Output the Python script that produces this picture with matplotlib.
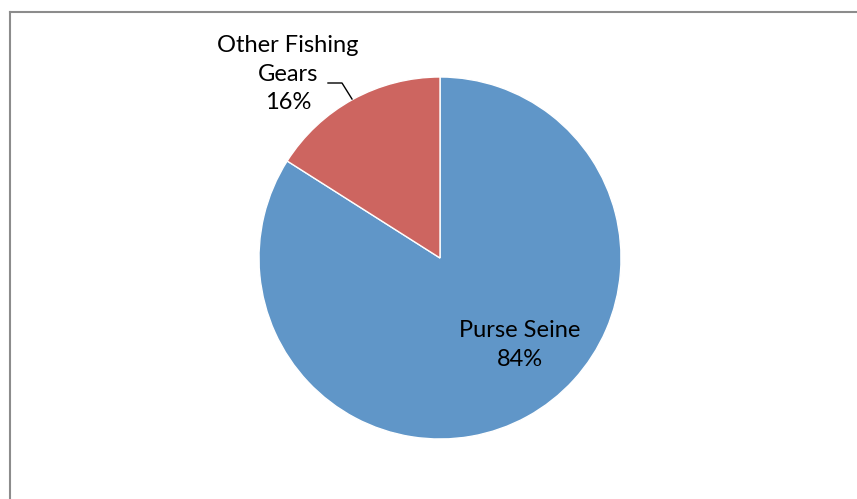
import matplotlib
matplotlib.use('Agg')
import matplotlib.pyplot as plt
from matplotlib.lines import Line2D

plt.rcParams['font.family'] = ['Lato', 'DejaVu Sans']

# share of catch by gear type
gears = ['Purse Seine', 'Other Fishing\nGears']
shares = [84, 16]
colors = ['#6096C8', '#CD6560']

W, H = 857, 499
fig = plt.figure(figsize=(W / 100, H / 100), dpi=100)
ax = fig.add_axes([0, 0, 1, 1])

cx, cy, r = 440, H - 258, 181
ax.pie(shares, colors=colors, startangle=90, counterclock=False,
       center=(cx, cy), radius=r, frame=True,
       wedgeprops=dict(edgecolor='white', linewidth=1))
ax.set_xlim(0, W)
ax.set_ylim(0, H)
ax.set_aspect('equal')
ax.axis('off')

# data labels
ax.text(520, H - 345, f'{gears[0]}\n{shares[0]}%', ha='center', va='center',
        fontsize=17, linespacing=1.45)
ax.text(288, H - 74, f'{gears[1]}\n{shares[1]}%', ha='center', va='center',
        fontsize=17, linespacing=1.45)
ax.plot([328, 342, 352], [H - 83, H - 83, H - 99], color='black', lw=1)

# chart area border (top and left visible)
fig.add_artist(Line2D([9.5 / W, 9.5 / W], [0, 1 - 11.5 / H], color='#8C8C8C',
                      lw=1.5, transform=fig.transFigure))
fig.add_artist(Line2D([9.5 / W, 1], [1 - 11.5 / H, 1 - 11.5 / H], color='#8C8C8C',
                      lw=1.5, transform=fig.transFigure))

fig.savefig('out.png', dpi=100, facecolor='white')
